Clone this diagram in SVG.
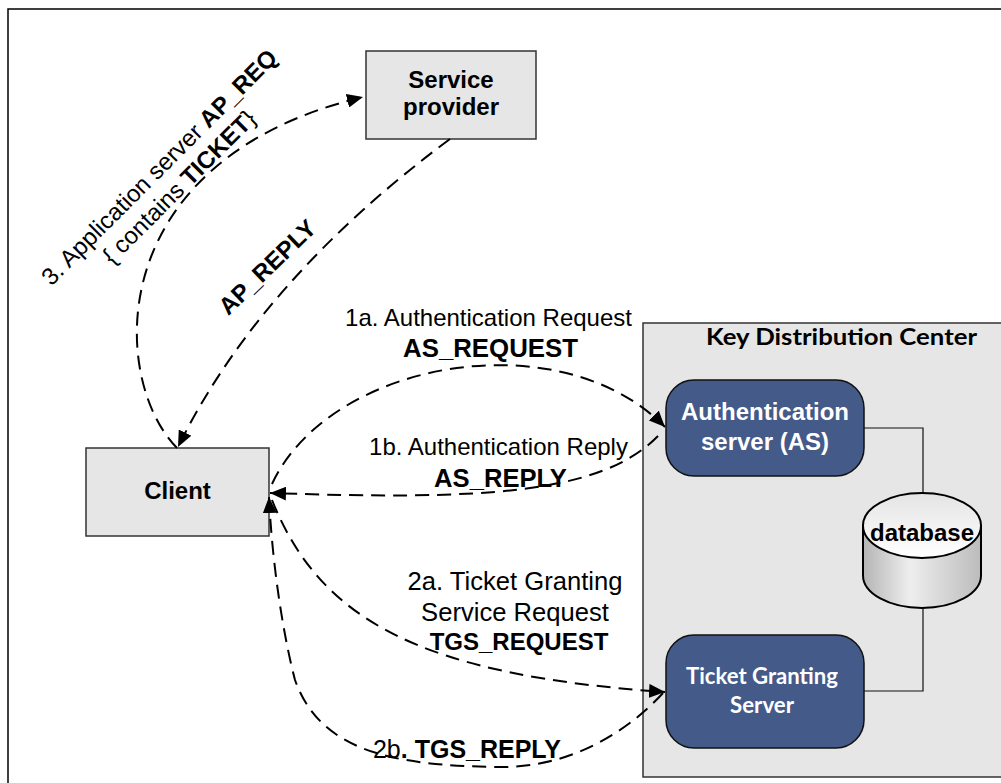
<svg xmlns="http://www.w3.org/2000/svg" width="1001" height="783" viewBox="0 0 1001 783">
<style>
.box{fill:#e6e6e6;stroke:#333;stroke-width:1.5}
.node{fill:#445a88;stroke:#111;stroke-width:1.5}
.t{font-family:"Liberation Sans",Arial,sans-serif;font-size:24px;fill:#000}
.b{font-weight:bold}
.w{fill:#fff}
.cal{font-family:Lato,"Open Sans",sans-serif;font-weight:bold}
.dash{fill:none;stroke:#000;stroke-width:2;stroke-dasharray:14 8}
.solid{fill:none;stroke:#111;stroke-width:1.2}
</style>
<defs>
<marker id="arr" markerUnits="userSpaceOnUse" markerWidth="18" markerHeight="14" refX="16" refY="7" orient="auto">
<path d="M0,0 L16,7 L0,14 z" fill="#000"/>
</marker>
<linearGradient id="cylBody" x1="0" y1="0" x2="1" y2="0">
<stop offset="0" stop-color="#b4b4b4"/>
<stop offset="0.4" stop-color="#eeeeee"/>
<stop offset="1" stop-color="#bcbcbc"/>
</linearGradient>
<linearGradient id="cylTop" x1="0" y1="0" x2="0" y2="1">
<stop offset="0" stop-color="#e4e4e4"/>
<stop offset="1" stop-color="#ffffff"/>
</linearGradient>
</defs>
<rect width="1001" height="783" fill="#fff"/>
<path d="M8,790 V9 H1010" fill="none" stroke="#000" stroke-width="1.5"/>

<g id="kdc">
<rect class="box" x="643" y="323" width="400" height="454"/>
<text class="t cal" x="841.5" y="345" style="font-size:22px" text-anchor="middle" textLength="271" lengthAdjust="spacingAndGlyphs">Key Distribution Center</text>
</g>

<g id="links">
<path class="solid" d="M864,428 H923 V493"/>
<path class="solid" d="M864,691 H923 V608"/>
</g>

<g id="service-provider">
<rect class="box" x="366" y="51" width="170" height="88"/>
<text class="t b" x="451" y="88" text-anchor="middle">Service</text>
<text class="t b" x="451" y="115" text-anchor="middle">provider</text>
</g>

<g id="client">
<rect class="box" x="86" y="448" width="183" height="88"/>
<text class="t b" x="177.5" y="499" text-anchor="middle">Client</text>
</g>

<g id="as">
<rect class="node" x="666" y="380" width="198" height="96" rx="28"/>
<text class="t b w" x="765" y="420" text-anchor="middle">Authentication</text>
<text class="t b w" x="765" y="450" text-anchor="middle">server (AS)</text>
</g>

<g id="tgs">
<rect class="node" x="666" y="635" width="198" height="113" rx="28"/>
<text class="t cal w" x="762" y="684" style="font-size:22px" text-anchor="middle" textLength="152" lengthAdjust="spacingAndGlyphs">Ticket Granting</text>
<text class="t cal w" x="762" y="713" style="font-size:22px" text-anchor="middle" textLength="64" lengthAdjust="spacingAndGlyphs">Server</text>
</g>

<g id="database">
<path d="M863,525.5 V575.5 A59,32.5 0 0 0 981,575.5 V525.5 Z" fill="url(#cylBody)" stroke="#000" stroke-width="2"/>
<ellipse cx="922" cy="525.5" rx="59" ry="32.5" fill="url(#cylTop)" stroke="#000" stroke-width="2"/>
<text class="t b" x="922" y="541" text-anchor="middle">database</text>
</g>

<g id="connectors">
<path class="dash" d="M177,448 C110,380 100,160 363,97" marker-end="url(#arr)"/>
<path class="dash" d="M450,139 Q260,280 178,447" marker-end="url(#arr)"/>
<path class="dash" d="M272,484 C330,360 560,320 665,427" marker-end="url(#arr)"/>
<path class="dash" d="M658,436 C600,495 480,500 270,493" marker-end="url(#arr)"/>
<path class="dash" d="M272,500 C320,620 420,675 665,692" marker-end="url(#arr)"/>
<path class="dash" d="M663,693 C620,740 560,768 500,767 C390,766 320,750 295,680 C282,630 272,560 269,497" marker-end="url(#arr)"/>
</g>

<g id="labels">
<g transform="translate(165,173) rotate(-45)">
<text class="t" x="0" y="0" text-anchor="middle">3. Application server <tspan class="b">AP_REQ</tspan></text>
<text class="t" x="0" y="28" text-anchor="middle">{ contains <tspan class="b">TICKET</tspan>}</text>
</g>
<text class="t b" transform="translate(273,273) rotate(-44)" text-anchor="middle">AP_REPLY</text>
<text class="t" x="488.5" y="326" text-anchor="middle">1a. Authentication Request</text>
<text class="t b" x="490.5" y="357" text-anchor="middle" style="font-size:25.8px">AS_REQUEST</text>
<text class="t" x="498.5" y="455" text-anchor="middle">1b. Authentication Reply</text>
<text class="t b" x="500.5" y="487" text-anchor="middle" style="font-size:25.6px">AS_REPLY</text>
<text class="t" x="515" y="590" text-anchor="middle" style="font-size:25.6px">2a. Ticket Granting</text>
<text class="t" x="515" y="621" text-anchor="middle" style="font-size:25.6px">Service Request</text>
<text class="t b" x="519" y="650" text-anchor="middle">TGS_REQUEST</text>
<text class="t" x="467" y="758" text-anchor="middle" style="font-size:25px">2b<tspan class="b">. TGS_REPLY</tspan></text>
</g>
</svg>
